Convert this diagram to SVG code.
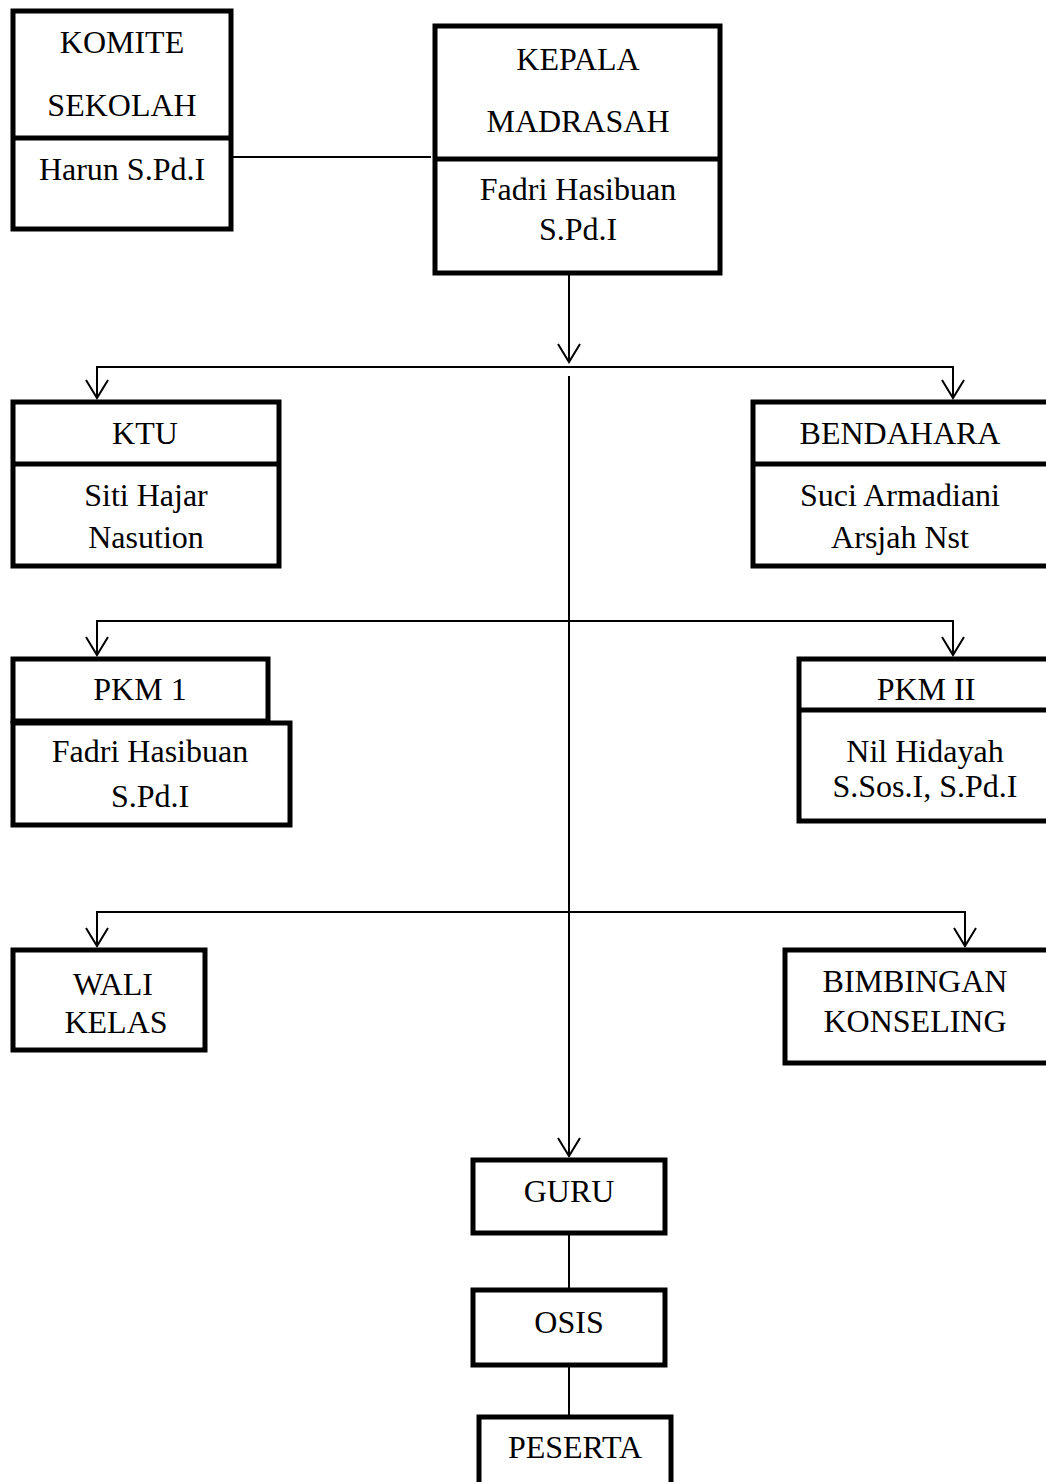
<svg xmlns="http://www.w3.org/2000/svg" width="1046" height="1482" viewBox="0 0 1046 1482">
<style>
.box{fill:#fff;stroke:#000;stroke-width:5}
.div{stroke:#000;stroke-width:5}
.t{font-family:"Liberation Serif","Times New Roman",serif;font-size:32px;fill:#000;text-anchor:middle}
.c{stroke:#000;stroke-width:2;fill:none}
</style>
<defs>
<marker id="arr" markerUnits="userSpaceOnUse" markerWidth="40" markerHeight="40" viewBox="-20 -20 40 40" refX="0" refY="0" orient="auto" overflow="visible">
<path d="M-18,-11 L0,0 L-18,11" fill="none" stroke="#000" stroke-width="2"/>
</marker>
</defs>
<rect width="1046" height="1482" fill="#fff"/>
<g id="connectors">
<line class="c" x1="233" y1="157" x2="431" y2="157"/>
<line class="c" x1="569" y1="275" x2="569" y2="362" marker-end="url(#arr)"/>
<line class="c" x1="96" y1="367" x2="954" y2="367"/>
<line class="c" x1="97" y1="367" x2="97" y2="398" marker-end="url(#arr)"/>
<line class="c" x1="953" y1="367" x2="953" y2="398" marker-end="url(#arr)"/>
<line class="c" x1="569" y1="376" x2="569" y2="1156" marker-end="url(#arr)"/>
<line class="c" x1="96" y1="621" x2="954" y2="621"/>
<line class="c" x1="97" y1="621" x2="97" y2="655" marker-end="url(#arr)"/>
<line class="c" x1="953" y1="621" x2="953" y2="655" marker-end="url(#arr)"/>
<line class="c" x1="96" y1="912" x2="966" y2="912"/>
<line class="c" x1="97" y1="912" x2="97" y2="946" marker-end="url(#arr)"/>
<line class="c" x1="965" y1="912" x2="965" y2="946" marker-end="url(#arr)"/>
<line class="c" x1="569" y1="1235" x2="569" y2="1288"/>
<line class="c" x1="569" y1="1367" x2="569" y2="1415"/>
</g>
<g id="komite">
<rect class="box" x="13" y="11" width="218" height="218"/>
<line class="div" x1="11" y1="138" x2="233" y2="138"/>
<text class="t" x="122" y="53">KOMITE</text>
<text class="t" x="122" y="116">SEKOLAH</text>
<text class="t" x="122" y="180">Harun S.Pd.I</text>
</g>
<g id="kepala">
<rect class="box" x="435" y="26" width="285" height="247"/>
<line class="div" x1="433" y1="159" x2="722" y2="159"/>
<text class="t" x="578" y="70">KEPALA</text>
<text class="t" x="578" y="132">MADRASAH</text>
<text class="t" x="578" y="200">Fadri Hasibuan</text>
<text class="t" x="578" y="240">S.Pd.I</text>
</g>
<g id="ktu">
<rect class="box" x="13" y="402" width="266" height="164"/>
<line class="div" x1="11" y1="464" x2="281" y2="464"/>
<text class="t" x="145" y="444">KTU</text>
<text class="t" x="146" y="506">Siti Hajar</text>
<text class="t" x="146" y="548">Nasution</text>
</g>
<g id="bendahara">
<rect class="box" x="753" y="402" width="300" height="164"/>
<line class="div" x1="751" y1="464" x2="1046" y2="464"/>
<text class="t" x="900" y="444">BENDAHARA</text>
<text class="t" x="900" y="506">Suci Armadiani</text>
<text class="t" x="900" y="548">Arsjah Nst</text>
</g>
<g id="pkm1">
<rect class="box" x="13" y="659" width="255" height="62"/>
<rect class="box" x="13" y="723" width="277" height="102"/>
<text class="t" x="140" y="700">PKM 1</text>
<text class="t" x="150" y="762">Fadri Hasibuan</text>
<text class="t" x="150" y="807">S.Pd.I</text>
</g>
<g id="pkm2">
<rect class="box" x="799" y="659" width="260" height="162"/>
<line class="div" x1="797" y1="710" x2="1046" y2="710"/>
<text class="t" x="926" y="700">PKM II</text>
<text class="t" x="925" y="762">Nil Hidayah</text>
<text class="t" x="925" y="797">S.Sos.I, S.Pd.I</text>
</g>
<g id="wali">
<rect class="box" x="13" y="950" width="192" height="100"/>
<text class="t" x="113" y="995">WALI</text>
<text class="t" x="116" y="1033">KELAS</text>
</g>
<g id="bimbingan">
<rect class="box" x="785" y="950" width="270" height="113"/>
<text class="t" x="915" y="992">BIMBINGAN</text>
<text class="t" x="915" y="1032">KONSELING</text>
</g>
<g id="guru">
<rect class="box" x="473" y="1160" width="192" height="73"/>
<text class="t" x="569" y="1202">GURU</text>
</g>
<g id="osis">
<rect class="box" x="473" y="1290" width="192" height="75"/>
<text class="t" x="569" y="1333">OSIS</text>
</g>
<g id="peserta">
<rect class="box" x="479" y="1417" width="192" height="100"/>
<text class="t" x="575" y="1458">PESERTA</text>
</g>
</svg>
